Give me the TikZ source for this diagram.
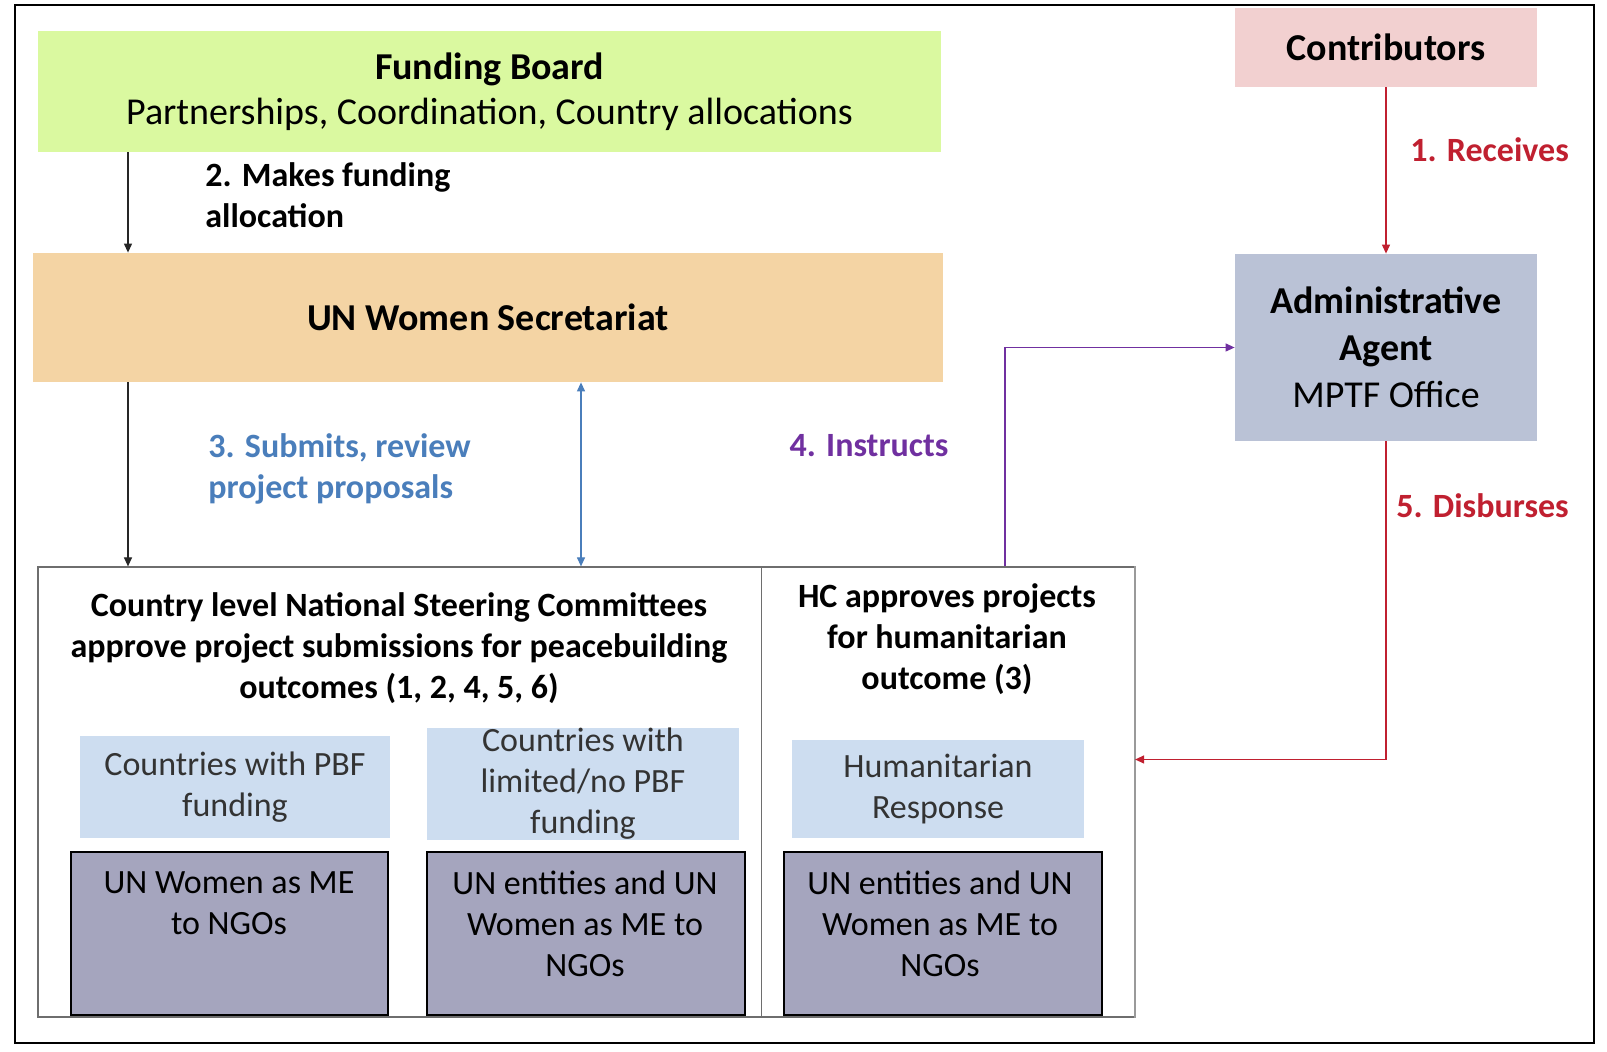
\documentclass[tikz,border=0pt]{standalone}
\usepackage{fontspec}
\setmainfont{Carlito}
\usetikzlibrary{arrows.meta,calc}
\definecolor{fbgreen}{RGB}{218,249,160}
\definecolor{sectan}{RGB}{244,212,164}
\definecolor{contpink}{RGB}{242,208,208}
\definecolor{admblue}{RGB}{186,194,214}
\definecolor{ltblue}{RGB}{205,221,240}
\definecolor{darkbox}{RGB}{165,165,190}
\definecolor{lblblue}{RGB}{74,126,187}
\definecolor{lblpurple}{RGB}{112,48,160}
\definecolor{lblred}{RGB}{192,32,48}
\definecolor{boxgray}{RGB}{110,110,110}
\tikzset{
  bigfont/.style={font=\fontsize{19}{23}\selectfont},
  smallfont/.style={font=\fontsize{17}{20.5}\selectfont},
  fillbox/.style={draw=none, inner sep=0pt, align=center, text=black},
  container/.style={draw=boxgray, line width=0.6pt, inner sep=0pt},
  dbox/.style={draw=black, fill=darkbox, line width=0.8pt, inner sep=0pt},
  txt/.style={inner sep=0pt, align=center, smallfont},
  arr/.style={line width=0.6pt, -{Triangle[length=4.5pt,width=4pt]}},
  darr/.style={line width=0.6pt, {Triangle[length=4.5pt,width=4pt]}-{Triangle[length=4.5pt,width=4pt]}},
}
\begin{document}
\begin{tikzpicture}[x=0.5pt,y=-0.5pt]
\path[use as bounding box, fill=white] (0,0) rectangle (1607,1052);
\node[draw=black, line width=1.1pt, inner sep=0pt, minimum width=789.5pt, minimum height=519pt] (frame) at (804.5,524) {};

% top boxes
\node[fillbox, fill=fbgreen, minimum width=451.5pt, minimum height=60.5pt, font=\fontsize{19}{22.5}\selectfont] (fb) at (489.5,91.5)
  {\textbf{Funding Board}\\Partnerships, Coordination, Country allocations};
\node[fillbox, fill=sectan, minimum width=455pt, minimum height=64.5pt, bigfont] (unws) at (488,317.5)
  {\bfseries UN Women Secretariat};
\node[fillbox, fill=contpink, minimum width=151pt, minimum height=39.5pt, bigfont] (contrib) at (1386,47.5)
  {\bfseries Contributors};
\node[fillbox, fill=admblue, minimum width=151pt, minimum height=93.5pt, font=\fontsize{19}{23.5}\selectfont] (admin) at (1386,347.5)
  {\bfseries Administrative\\\bfseries Agent\\MPTF Office};

% bottom containers
\node[container, minimum width=361.75pt, minimum height=225pt] (ncs) at (399.75,792) {};
\node[container, minimum width=186.5pt, minimum height=225pt] (hc) at (948,792) {};
\draw[boxgray!70, line width=1.1pt] (hc.north east) -- (hc.south east);
\node[txt, font=\fontsize{17}{20.5}\selectfont\bfseries] (ncst) at (399,648)
  {Country level National Steering Committees\\approve project submissions for peacebuilding\\outcomes (1, 2, 4, 5, 6)};
\node[txt, font=\fontsize{17}{20.5}\selectfont\bfseries] (hct) at (947,639)
  {HC approves projects\\for humanitarian\\outcome (3)};

% light blue boxes
\node[fillbox, fill=ltblue, minimum width=155pt, minimum height=51pt, smallfont, text=black!80] (pbf) at (235,787)
  {Countries with PBF\\funding};
\node[fillbox, fill=ltblue, minimum width=156pt, minimum height=54pt, smallfont, text=black!80] (lim) at (583,784)
  {Countries with\\limited/no PBF\\funding};
\node[fillbox, fill=ltblue, minimum width=146pt, minimum height=49pt, smallfont, text=black!80] (hum) at (938,789)
  {Humanitarian\\Response};

% dark boxes
\node[dbox, minimum width=158.5pt, minimum height=81.5pt] (d1) at (229.5,933.5) {};
\node[dbox, minimum width=159pt, minimum height=81.5pt] (d2) at (586,933.5) {};
\node[dbox, minimum width=159pt, minimum height=81.5pt] (d3) at (943,933.5) {};
\node[txt] (d1t) at (229,903) {UN Women as ME\\to NGOs};
\node[txt] (d2t) at (585,924) {UN entities and UN\\Women as ME to\\NGOs};
\node[txt] (d3t) at (940,924) {UN entities and UN\\Women as ME to\\NGOs};

% labels
\node[txt, align=left, anchor=west, font=\fontsize{17}{20.5}\selectfont\bfseries] (l2) at (205,195.5)
  {2. Makes funding\\allocation};
\node[txt, align=left, anchor=west, text=lblblue, font=\fontsize{17}{20.5}\selectfont\bfseries] (l3) at (208,468.5)
  {3. Submits, review\\project proposals};
\node[txt, text=lblpurple, font=\fontsize{17}{20.5}\selectfont\bfseries] (l4) at (869,446) {4. Instructs};
\node[txt, anchor=west, text=lblred, font=\fontsize{17}{20.5}\selectfont\bfseries] (l1) at (1410,150) {1. Receives};
\node[txt, anchor=west, text=lblred, font=\fontsize{17}{20.5}\selectfont\bfseries] (l5) at (1396,506) {5. Disburses};

% connectors
\coordinate (cx1) at (128,0);
\coordinate (cx2) at (581,0);
\coordinate (cx4) at (1005,0);
\coordinate (cy5) at (0,759.5);
\draw[arr, black!85] (cx1 |- fb.south) -- (cx1 |- unws.north);
\draw[arr, black!85] (cx1 |- unws.south) -- (cx1 |- ncs.north);
\draw[darr, lblblue] (cx2 |- unws.south) -- (cx2 |- ncs.north);
\draw[arr, lblpurple] (cx4 |- hc.north) |- (admin.west);
\draw[arr, lblred] (contrib.south) -- (admin.north);
\draw[arr, lblred] (admin.south) |- (hc.east |- cy5);
\end{tikzpicture}
\end{document}
